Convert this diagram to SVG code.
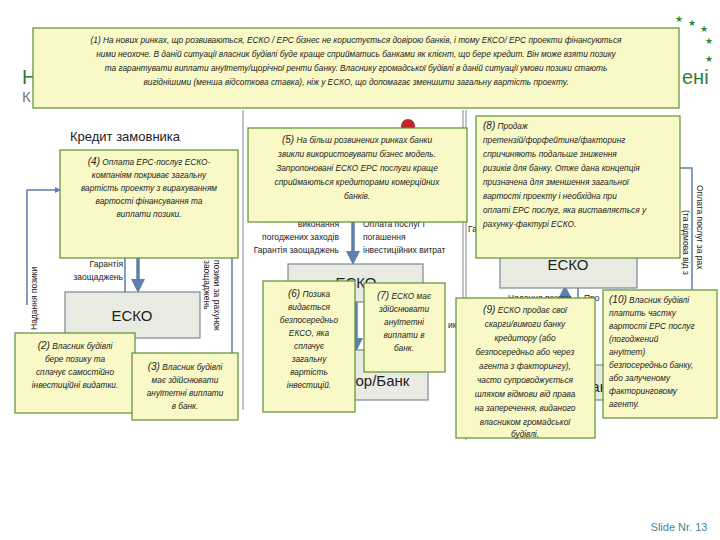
<svg xmlns="http://www.w3.org/2000/svg" width="720" height="540" viewBox="0 0 720 540">
<style>
text{font-family:"Liberation Sans","DejaVu Sans",sans-serif;}
.c{fill:#f8f9c6;stroke:#5f8f34;stroke-width:1.2}
.ct{font-size:8.3px;font-style:italic;fill:#222;text-anchor:middle}
.cl{font-size:8.3px;font-style:italic;fill:#222}
.b{fill:#e9ebe2;stroke:#7b8794;stroke-width:1.2}
.bt{font-size:15px;fill:#222;text-anchor:middle}
.l{font-size:8.5px;fill:#222}
.ln{stroke:#5d7fa8;stroke-width:1.5;fill:none}
.ar{stroke:#5d7fa8;stroke-width:3.5;fill:none}
.fr{stroke:#7b8794;stroke-width:1;fill:none}
</style>
<defs><marker id="ah" markerWidth="4" markerHeight="4" refX="2" refY="2" orient="auto"><path d="M0,0L4,2L0,4z" fill="#5d7fa8"/></marker></defs>
<rect width="720" height="540" fill="#fff"/>
<g fill="#2a8a3a" font-size="9"><text x="675" y="22">★</text><text x="688" y="26">★</text><text x="700" y="32">★</text><text x="705" y="44">★</text><text x="705" y="62">★</text></g>
<text x="22" y="84" font-size="20" fill="#2e7d32">Н</text>
<text x="682" y="84" font-size="20" fill="#2e7d32">ені</text>
<text x="22" y="102" font-size="15" fill="#777">К</text>
<g id="frames"><path class="fr" d="M243,110V410M463,110V420M466,110V440"/></g>
<g id="connectors">
<path class="ln" d="M27,305V190H58" marker-end="url(#ah)"/>
<path class="ln" d="M125,258V292M232,258V355"/>
<path class="ar" d="M138,258V286" marker-end="url(#ah)"/>
<path class="ar" d="M353,222V258" marker-end="url(#ah)"/>
<path class="ar" d="M356,300V345" marker-end="url(#ah)"/>
<path class="ln" d="M680,168H692V300"/>
<path class="ar" d="M565,300V292" marker-end="url(#ah)"/>
<path class="ln" d="M578,288V300"/>
</g>
<g id="labels">
<text x="70" y="141" font-size="13" fill="#222">Кредит замовника</text>
<text x="37" y="330" class="l" transform="rotate(-90 37 330)">Надання позики</text>
<text x="123" y="267" class="l" text-anchor="end">Гарантія</text>
<text x="123" y="280" class="l" text-anchor="end">заощаджень</text>
<text x="214" y="260" class="l" transform="rotate(90 214 260)">позики за рахунок</text>
<text x="204" y="260" class="l" transform="rotate(90 204 260)">заощаджень</text>
<text x="339" y="227" class="l" text-anchor="end">виконання</text>
<text x="339" y="240" class="l" text-anchor="end">погоджених заходів</text>
<text x="339" y="253" class="l" text-anchor="end">Гарантія заощаджень</text>
<text x="363" y="227" class="l">Оплата послуг і</text>
<text x="363" y="240" class="l">погашення</text>
<text x="363" y="253" class="l">інвестиційних витрат</text>
<text x="468" y="232" class="l">Га</text>
<text x="448" y="328" class="l">ик</text>
<text x="508" y="301" class="l">Надання позики</text>
<text x="584" y="301" class="l">Про</text>
<text x="697" y="185" class="l" transform="rotate(90 697 185)">Оплата послуг за рах</text>
<text x="683" y="210" class="l" transform="rotate(90 683 210)">(та відмова від з</text>
<circle cx="408" cy="126" r="7" fill="#c0252a"/>
<text x="679" y="531" font-size="11" fill="#3a8a9a" text-anchor="middle">Slide Nr. 13</text>
</g>
<g id="n-esko1"><rect class="b" x="65" y="292" width="135" height="46"/><text class="bt" x="132" y="321">ЕСКО</text></g>
<g id="n-esko2"><rect class="b" x="288" y="264" width="135" height="38"/><text class="bt" x="356" y="288">ЕСКО</text></g>
<g id="n-bank"><rect class="b" x="288" y="350" width="140" height="50"/><text class="bt" x="358" y="386">Кредитор/Банк</text></g>
<g id="n-esko3"><rect class="b" x="500" y="240" width="137" height="48"/><text class="bt" x="568" y="270">ЕСКО</text></g>
<g id="n-bank2"><rect class="b" x="560" y="365" width="70" height="35"/><text class="bt" x="598" y="392">Банк</text></g>
<g id="n-c4"><rect class="c" x="60" y="150" width="178" height="108"/>
<text class="ct" x="149" y="165"><tspan font-size="10">(4)</tspan> Оплата ЕРС-послуг ЕСКО-</text>
<text class="ct" x="149" y="178">компаніям покриває загальну</text>
<text class="ct" x="149" y="191">вартість проекту з вирахуванням</text>
<text class="ct" x="149" y="204">вартості фінансування та</text>
<text class="ct" x="149" y="217">виплати позики.</text></g>
<g id="n-c2"><rect class="c" x="15" y="333" width="120" height="80"/>
<text class="ct" x="75" y="349"><tspan font-size="10">(2)</tspan> Власник будівлі</text>
<text class="ct" x="75" y="362">бере позику та</text>
<text class="ct" x="75" y="375">сплачує самостійно</text>
<text class="ct" x="75" y="388">інвестиційні видатки.</text></g>
<g id="n-c3"><rect class="c" x="132" y="353" width="106" height="67"/>
<text class="ct" x="185" y="370"><tspan font-size="10">(3)</tspan> Власник будівлі</text>
<text class="ct" x="185" y="383">має здійснювати</text>
<text class="ct" x="185" y="396">ануїтетні виплати</text>
<text class="ct" x="185" y="409">в банк.</text></g>
<g id="n-c5"><rect class="c" x="248" y="128" width="219" height="94"/>
<text class="ct" x="357" y="143"><tspan font-size="10">(5)</tspan> На більш розвинених ринках банки</text>
<text class="ct" x="357" y="157">звикли використовувати бізнес модель.</text>
<text class="ct" x="357" y="171">Запропоновані ЕСКО ЕРС послуги краще</text>
<text class="ct" x="357" y="185">сприймаються кредиторами комерційних</text>
<text class="ct" x="357" y="199">банків.</text></g>
<g id="n-c6"><rect class="c" x="263" y="281" width="92" height="131"/>
<text class="ct" x="309" y="297"><tspan font-size="10">(6)</tspan> Позика</text>
<text class="ct" x="309" y="310">видається</text>
<text class="ct" x="309" y="323">безпосередньо</text>
<text class="ct" x="309" y="336">ЕКСО, яка</text>
<text class="ct" x="309" y="349">сплачує</text>
<text class="ct" x="309" y="362">загальну</text>
<text class="ct" x="309" y="375">вартість</text>
<text class="ct" x="309" y="388">інвестицій.</text></g>
<g id="n-c7"><rect class="c" x="364" y="283" width="81" height="89"/>
<text class="ct" x="404" y="299"><tspan font-size="10">(7)</tspan> ЕСКО має</text>
<text class="ct" x="404" y="312">здійснювати</text>
<text class="ct" x="404" y="325">ануїтетні</text>
<text class="ct" x="404" y="338">виплати в</text>
<text class="ct" x="404" y="351">банк.</text></g>
<g id="n-c8"><rect class="c" x="476" y="116" width="204" height="142"/>
<text class="cl" x="483" y="129"><tspan font-size="10">(8)</tspan> Продаж</text>
<text class="cl" x="483" y="143">претензій/форфейтинг/факторинг</text>
<text class="cl" x="483" y="157">спричиняють подальше зниження</text>
<text class="cl" x="483" y="171">ризиків для банку. Отже дана концепція</text>
<text class="cl" x="483" y="185">призначена для зменшення загальної</text>
<text class="cl" x="483" y="199">вартості проекту і необхідна при</text>
<text class="cl" x="483" y="213">оплаті ЕРС послуг, яка виставляється у</text>
<text class="cl" x="483" y="227">рахунку-фактурі ЕСКО.</text></g>
<g id="n-c9"><rect class="c" x="456" y="298" width="139" height="140"/>
<text class="ct" x="525" y="313"><tspan font-size="10">(9)</tspan> ЕСКО продає свої</text>
<text class="ct" x="525" y="327">скарги/вимоги банку</text>
<text class="ct" x="525" y="341">кредитору (або</text>
<text class="ct" x="525" y="355">безпосередньо або через</text>
<text class="ct" x="525" y="369">агента з факторингу),</text>
<text class="ct" x="525" y="383">часто супроводжується</text>
<text class="ct" x="525" y="397">шляхом відмови від права</text>
<text class="ct" x="525" y="411">на заперечення, виданого</text>
<text class="ct" x="525" y="425">власником громадської</text>
<text class="ct" x="525" y="437">будівлі.</text></g>
<g id="n-c10"><rect class="c" x="603" y="290" width="114" height="128"/>
<text class="cl" x="609" y="303"><tspan font-size="10">(10)</tspan> Власник будівлі</text>
<text class="cl" x="609" y="316">платить частку</text>
<text class="cl" x="609" y="329">вартості ЕРС послуг</text>
<text class="cl" x="609" y="342">(погоджений</text>
<text class="cl" x="609" y="355">ануїтет)</text>
<text class="cl" x="609" y="368">безпосередньо банку,</text>
<text class="cl" x="609" y="381">або залученому</text>
<text class="cl" x="609" y="394">факторинговому</text>
<text class="cl" x="609" y="407">агенту.</text></g>
<g id="n-c1"><rect class="c" x="33" y="28" width="646" height="80"/>
<text class="ct" x="356" y="43">(1) На нових ринках, що розвиваються, ЕСКО / ЕРС бізнес не користується довірою банків, і тому ЕКСО/ ЕРС проекти фінансуються</text>
<text class="ct" x="356" y="57">ними неохоче. В даній ситуації власник будівлі буде краще сприйматись банками як клієнт, що бере кредит. Він може взяти позику</text>
<text class="ct" x="356" y="71">та гарантувати виплати ануїтету/щорічної ренти банку. Власнику громадської будівлі в даній ситуації умови позики стають</text>
<text class="ct" x="356" y="85">вигіднішими (менша відсоткова ставка), ніж у ЕСКО, що допомагає зменшити загальну вартість проекту.</text></g>
</svg>
